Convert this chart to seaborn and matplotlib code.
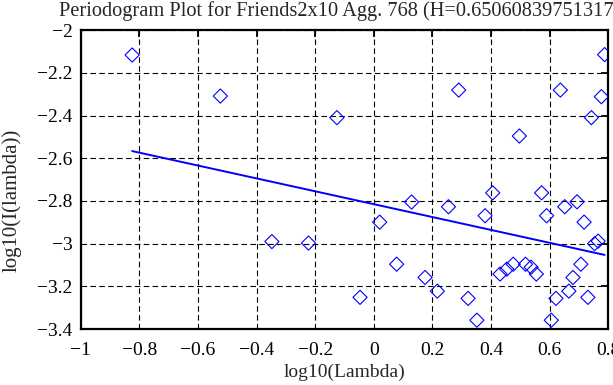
"""Periodogram plot: log10 periodogram vs log10 frequency with a fitted line."""
import matplotlib
matplotlib.use('Agg')
import matplotlib.pyplot as plt
import seaborn as sns

# data
log_lambda = [-0.825, -0.524, -0.348, -0.223, -0.126, -0.047, 0.020, 0.078,
              0.129, 0.175, 0.217, 0.255, 0.290, 0.322, 0.352, 0.380, 0.406,
              0.431, 0.454, 0.476, 0.497, 0.518, 0.537, 0.555, 0.573, 0.590,
              0.606, 0.622, 0.637, 0.652, 0.666, 0.680, 0.694, 0.707, 0.718,
              0.731, 0.743, 0.754, 0.766, 0.777, 0.788]
log_periodogram = [-2.117, -2.309, -2.990, -2.997, -2.410, -3.251, -2.899,
                   -3.096, -2.805, -3.158, -3.222, -2.827, -2.281, -3.256,
                   -3.358, -2.869, -2.762, -3.142, -3.119, -3.096, -2.496,
                   -3.096, -3.110, -3.142, -2.762, -2.869, -3.358, -3.256,
                   -2.281, -2.827, -3.222, -3.158, -2.804, -3.096, -2.899,
                   -3.251, -2.410, -3.000, -2.988, -2.312, -2.115]
hurst = 0.650608397513177
fit_slope = 1 - 2 * hurst
fit_intercept = -2.815

x_ticks = [-1, -0.8, -0.6, -0.4, -0.2, 0, 0.2, 0.4, 0.6, 0.8]
x_tick_labels = ['\u22121', '\u22120.8', '\u22120.6', '\u22120.4', '\u22120.2',
                 '0', '0.2', '0.4', '0.6', '0.8']
y_ticks = [-3.4, -3.2, -3.0, -2.8, -2.6, -2.4, -2.2, -2.0]
y_tick_labels = ['\u22123.4', '\u22123.2', '\u22123', '\u22122.8', '\u22122.6',
                 '\u22122.4', '\u22122.2', '\u22122']

sns.set_style('white')
plt.rcParams['font.family'] = ['Liberation Serif', 'DejaVu Serif']

fig = plt.figure(figsize=(6.13, 3.85), dpi=100)
ax = fig.add_axes([0.132, 0.145, 0.860, 0.777])

# scatter of periodogram points
sns.scatterplot(x=log_lambda, y=log_periodogram, marker='D', s=52,
                facecolor='none', edgecolor='blue', linewidth=0.8, ax=ax,
                zorder=3)

# least squares line
fit_x = [min(log_lambda), max(log_lambda)]
fit_y = [fit_intercept + fit_slope * v for v in fit_x]
sns.lineplot(x=fit_x, y=fit_y, color='blue', linewidth=1.4, ax=ax, zorder=2)

ax.set_xlim(-1, 0.8)
ax.set_ylim(-3.4, -2)
ax.set_xticks(x_ticks)
ax.set_xticklabels(x_tick_labels)
ax.set_yticks(y_ticks)
ax.set_yticklabels(y_tick_labels)
ax.tick_params(direction='in', length=5, width=1.3, labelsize=14,
               top=True, right=True, colors='black')
ax.tick_params(axis='x', pad=9)
ax.tick_params(axis='y', pad=6)

ax.grid(True, color='black', linestyle=(0, (5, 3)), linewidth=0.8)
for s in ax.spines.values():
    s.set_linewidth(1.6)
    s.set_color('black')

ax.set_title('Periodogram Plot for Friends2x10 Agg. 768 (H=%s)' % repr(hurst),
             fontsize=14.7, pad=10)
ax.set_xlabel('log10(Lambda)', fontsize=14, va='center')
ax.set_ylabel('log10(I(lambda))', fontsize=15, va='center')
ax.xaxis.set_label_coords(0.5, -0.144)
ax.yaxis.set_label_coords(-0.131, 0.43)

plt.savefig('out.png', dpi=100)
plt.close()
